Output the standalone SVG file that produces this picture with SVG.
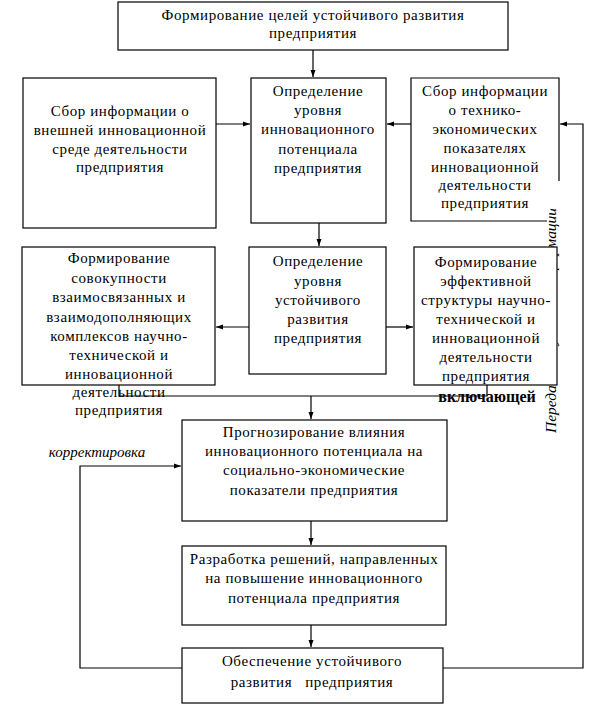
<svg xmlns="http://www.w3.org/2000/svg" width="609" height="706" viewBox="0 0 609 706">
<style>
.box{fill:#fff;stroke:#000;stroke-width:1.2}
.t{font-family:"Liberation Serif","Times New Roman",serif;font-size:15px;letter-spacing:0.6px;text-anchor:middle;fill:#000}
.ln{fill:none;stroke:#000;stroke-width:1.2}
.ar{fill:none;stroke:#000;stroke-width:1.2;marker-end:url(#ah)}
.it{font-family:"Liberation Serif","Times New Roman",serif;font-style:italic;font-size:15px;fill:#000}
</style>
<defs>
<marker id="ah" markerWidth="8" markerHeight="8" refX="7" refY="4" orient="auto" markerUnits="userSpaceOnUse">
<path d="M0,1.5 L7,4 L0,6.5 Z" fill="#000"/>
</marker>
</defs>
<rect width="609" height="706" fill="#fff"/>

<g id="rotated-label">
<text class="it" transform="translate(556,433) rotate(-90)" textLength="225" lengthAdjust="spacingAndGlyphs">Передача полученной информации</text>
</g>

<g id="connectors">
<line class="ar" x1="313" y1="50" x2="313" y2="77"/>
<line class="ar" x1="216" y1="124" x2="250" y2="124"/>
<line class="ar" x1="411" y1="124" x2="387" y2="124"/>
<line class="ar" x1="319" y1="223" x2="319" y2="246"/>
<line class="ar" x1="249" y1="327" x2="216" y2="327"/>
<line class="ar" x1="386" y1="327" x2="413" y2="327"/>
<polyline class="ln" points="119,385 119,396 487,396 487,385"/>
<line class="ar" x1="311" y1="396" x2="311" y2="419"/>
<line class="ar" x1="311" y1="521" x2="311" y2="545"/>
<line class="ar" x1="311" y1="625" x2="311" y2="647"/>
<polyline class="ar" points="182,668 80,668 80,466 181,466"/>
<polyline class="ar" points="443,668 583,668 583,124 560,124"/>
</g>

<g id="n-goals">
<rect class="box" x="118" y="2" width="390" height="48"/>
<text class="t" x="313" y="20">Формирование целей устойчивого развития</text>
<text class="t" x="313" y="38">предприятия</text>
</g>

<g id="n-ext-info">
<rect class="box" x="23" y="78" width="193" height="150"/>
<text class="t" x="120" y="116">Сбор информации о</text>
<text class="t" x="120" y="135">внешней инновационной</text>
<text class="t" x="120" y="154">среде деятельности</text>
<text class="t" x="120" y="172">предприятия</text>
</g>

<g id="n-innov-level">
<rect class="box" x="251" y="78" width="135" height="145"/>
<text class="t" x="318" y="96">Определение</text>
<text class="t" x="318" y="115">уровня</text>
<text class="t" x="318" y="134">инновационного</text>
<text class="t" x="318" y="154">потенциала</text>
<text class="t" x="318" y="173">предприятия</text>
</g>

<g id="n-tech-info">
<path class="box" d="M559,181 V78 H411 V221 H547" fill="#fff"/>
<text class="t" x="485" y="96">Сбор информации</text>
<text class="t" x="485" y="115">о технико-</text>
<text class="t" x="485" y="134">экономических</text>
<text class="t" x="485" y="153">показателях</text>
<text class="t" x="485" y="172">инновационной</text>
<text class="t" x="485" y="190">деятельности</text>
<text class="t" x="485" y="208">предприятия</text>
</g>

<g id="n-complexes">
<rect class="box" x="22" y="247" width="193" height="138"/>
<text class="t" x="119" y="263">Формирование</text>
<text class="t" x="119" y="283">совокупности</text>
<text class="t" x="119" y="302">взаимосвязанных и</text>
<text class="t" x="119" y="322">взаимодополняющих</text>
<text class="t" x="119" y="341">комплексов научно-</text>
<text class="t" x="119" y="360">технической и</text>
<text class="t" x="119" y="379">инновационной</text>
<text class="t" x="119" y="397">деятельности</text>
<text class="t" x="119" y="415">предприятия</text>
</g>

<g id="n-sustain-level">
<rect class="box" x="249" y="247" width="137" height="127"/>
<text class="t" x="318" y="266">Определение</text>
<text class="t" x="318" y="286">уровня</text>
<text class="t" x="318" y="305">устойчивого</text>
<text class="t" x="318" y="324">развития</text>
<text class="t" x="318" y="343">предприятия</text>
</g>

<g id="n-structure">
<rect class="box" x="414" y="247" width="143" height="138"/>
<text class="t" x="486" y="267">Формирование</text>
<text class="t" x="486" y="286">эффективной</text>
<text class="t" x="486" y="305">структуры научно-</text>
<text class="t" x="486" y="324">технической и</text>
<text class="t" x="486" y="343">инновационной</text>
<text class="t" x="486" y="362">деятельности</text>
<text class="t" x="486" y="381">предприятия</text>
</g>

<g id="label-incl">
<text x="487" y="402" font-family="Liberation Serif, serif" font-weight="bold" font-size="16" text-anchor="middle">включающей</text>
</g>

<g id="label-corr">
<text class="it" x="97" y="457" text-anchor="middle">корректировка</text>
</g>

<g id="n-forecast">
<rect class="box" x="182" y="420" width="265" height="101"/>
<text class="t" x="314" y="437">Прогнозирование влияния</text>
<text class="t" x="314" y="456">инновационного потенциала на</text>
<text class="t" x="314" y="475">социально-экономические</text>
<text class="t" x="314" y="495">показатели предприятия</text>
</g>

<g id="n-decisions">
<rect class="box" x="182" y="546" width="264" height="79"/>
<text class="t" x="314" y="564">Разработка решений, направленных</text>
<text class="t" x="314" y="583">на повышение инновационного</text>
<text class="t" x="314" y="603">потенциала  предприятия</text>
</g>

<g id="n-ensure">
<rect class="box" x="182" y="648" width="261" height="55"/>
<text class="t" x="312" y="666">Обеспечение устойчивого</text>
<text class="t" x="312" y="687" xml:space="preserve">развития   предприятия</text>
</g>
</svg>
